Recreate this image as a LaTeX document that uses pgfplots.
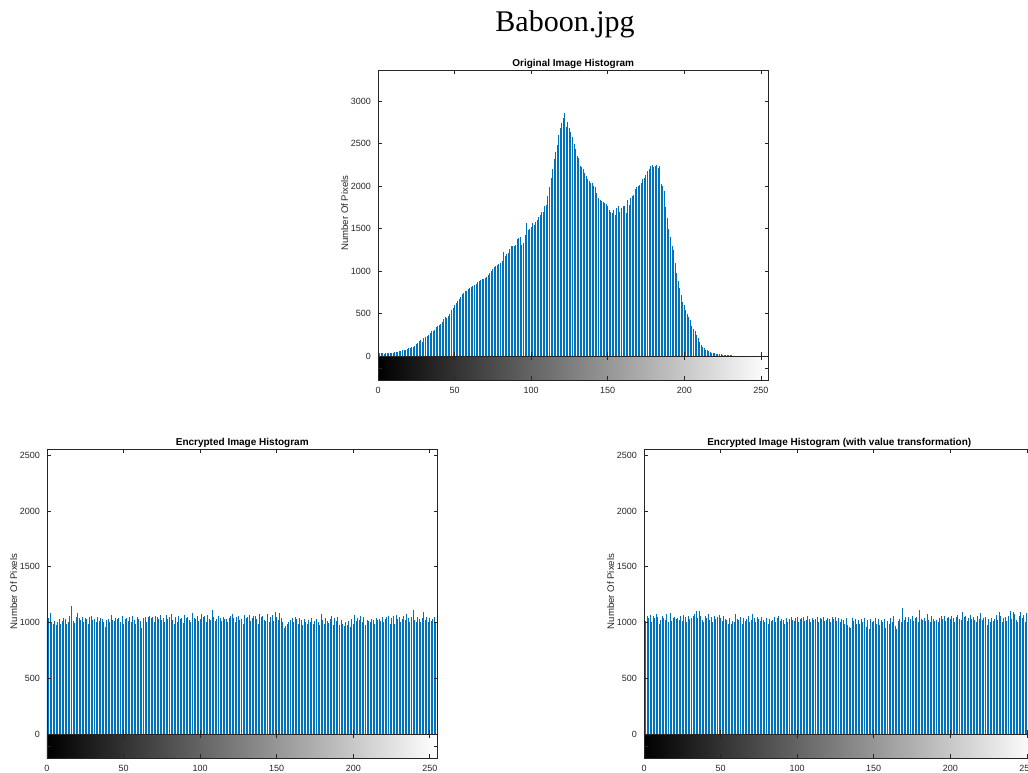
\documentclass[border=0pt]{standalone}
\usepackage{pgfplots}
\usepackage{pgfplotstable}
\pgfplotsset{compat=1.18}
\usepackage{fontspec}
\setmainfont{Liberation Sans}
\newfontfamily\timesfont{Liberation Serif}
\definecolor{mblue}{RGB}{0,114,189}
\definecolor{axgray}{RGB}{38,38,38}

% bin counts, bins 0..255
\pgfplotstableread[row sep=\\]{n\\
35\\38\\30\\32\\28\\35\\30\\33\\36\\34\\
40\\45\\42\\50\\55\\60\\65\\75\\70\\85\\
95\\100\\110\\105\\120\\140\\150\\175\\190\\170\\
210\\220\\240\\250\\270\\290\\300\\310\\340\\350\\
360\\380\\400\\440\\460\\450\\470\\500\\540\\560\\
600\\620\\650\\670\\700\\730\\740\\770\\760\\790\\
800\\810\\820\\830\\850\\870\\880\\900\\910\\905\\
920\\930\\950\\980\\1000\\1020\\1050\\1060\\1070\\1080\\
1090\\1120\\1220\\1180\\1200\\1210\\1260\\1290\\1300\\1300\\
1310\\1380\\1390\\1400\\1310\\1330\\1420\\1560\\1480\\1500\\
1520\\1570\\1540\\1580\\1600\\1640\\1660\\1690\\1700\\1760\\
1780\\1880\\1990\\2100\\2200\\2320\\2400\\2480\\2600\\2680\\
2740\\2800\\2860\\2700\\2750\\2680\\2640\\2580\\2500\\2440\\
2350\\2330\\2240\\2220\\2200\\2150\\2120\\2080\\2060\\2040\\
2030\\2000\\1990\\1920\\1860\\1840\\1820\\1810\\1800\\1790\\
1760\\1720\\1700\\1680\\1720\\1660\\1740\\1760\\1700\\1740\\
1760\\1770\\1680\\1830\\1780\\1860\\1880\\1900\\1960\\1990\\
2000\\2010\\2030\\2080\\2100\\2130\\2180\\2200\\2230\\2250\\
2220\\2240\\2250\\2210\\2240\\2020\\2000\\1940\\1750\\1620\\
1500\\1400\\1300\\1250\\1100\\980\\880\\800\\720\\640\\
600\\540\\500\\460\\420\\350\\320\\290\\250\\210\\
170\\135\\110\\90\\75\\68\\58\\48\\40\\34\\
30\\26\\22\\20\\18\\16\\14\\12\\10\\9\\
8\\6\\5\\4\\3\\3\\2\\2\\1\\1\\
1\\1\\0\\0\\0\\0\\0\\0\\0\\0\\0\\0\\0\\0\\0\\0\\
}\orig

\pgfplotstableread[row sep=\\]{n\\
1020\\1040\\1085\\1000\\990\\1010\\975\\1000\\1030\\990\\
1010\\1040\\1030\\985\\1005\\1060\\1150\\1010\\995\\1050\\
1085\\1040\\1020\\1050\\1000\\1040\\1030\\985\\1050\\1060\\
1020\\1035\\1000\\1045\\1010\\1040\\1030\\1000\\960\\1020\\
1035\\1000\\1065\\1020\\1010\\1040\\1030\\1040\\1000\\1060\\
990\\1030\\1040\\1015\\1045\\1000\\1060\\1020\\985\\1045\\
1030\\1010\\950\\1040\\1050\\1000\\1045\\1055\\1040\\1050\\
1000\\1060\\1050\\1035\\1065\\1020\\1040\\1000\\1070\\1030\\
1045\\1075\\1020\\990\\1050\\1000\\1060\\1030\\1040\\995\\
1070\\1040\\1050\\1020\\1000\\1085\\1040\\1030\\1060\\1010\\
1035\\1080\\1045\\1060\\1000\\1070\\1030\\1020\\1110\\1045\\
1010\\1030\\1060\\1040\\1010\\1050\\1030\\1035\\1005\\1040\\
1060\\1075\\1040\\1000\\1045\\1060\\1020\\1035\\990\\1070\\
1040\\1050\\1070\\1010\\1040\\1055\\1060\\1035\\990\\1075\\
1045\\1060\\1020\\1010\\1080\\1000\\1045\\1070\\1010\\1090\\
1050\\1020\\1085\\1040\\1000\\950\\970\\985\\1000\\1020\\
1040\\1000\\1045\\1030\\990\\1040\\1020\\975\\1030\\1000\\
985\\1020\\1000\\1040\\990\\1010\\1035\\1000\\980\\1080\\
1020\\990\\1040\\1010\\995\\1030\\1060\\975\\1040\\1010\\
1050\\980\\1020\\990\\970\\1000\\980\\1010\\960\\1030\\
990\\1065\\1010\\1040\\1020\\1060\\1000\\1050\\980\\1020\\
1010\\1000\\1030\\1020\\990\\1040\\1020\\1030\\1010\\1050\\
1000\\1030\\1045\\1060\\985\\1040\\1055\\990\\1070\\1030\\
1045\\1000\\1030\\1060\\1020\\1075\\1040\\1000\\1050\\1110\\
1020\\1000\\1045\\1030\\1005\\1040\\1090\\1020\\1050\\1000\\
1040\\1010\\1030\\1050\\1000\\1060\\
}\encA

\pgfplotstableread[row sep=\\]{n\\
1050\\1010\\1060\\1040\\1070\\1000\\1055\\1040\\1080\\1050\\
990\\1020\\1060\\1040\\1020\\1080\\1000\\1085\\1010\\1040\\
1050\\1030\\1040\\1020\\1060\\1010\\1070\\1050\\1000\\1060\\
1035\\1040\\1060\\1080\\1100\\1040\\1105\\1060\\1020\\1000\\
1055\\1040\\1080\\1020\\1050\\1000\\1060\\1030\\1045\\1070\\
1040\\1010\\1060\\1030\\1020\\990\\1040\\985\\1010\\1000\\
1075\\1030\\1020\\1050\\990\\1040\\1010\\1030\\1060\\1000\\
1020\\1075\\1040\\1000\\1045\\1030\\1010\\1050\\1020\\1000\\
1040\\990\\1030\\1010\\1020\\1045\\1000\\1040\\1060\\1010\\
1030\\1020\\990\\1040\\1000\\1030\\1050\\1020\\1010\\1040\\
1050\\1000\\1030\\1040\\1045\\1010\\1020\\1060\\1030\\1000\\
1040\\1020\\1030\\1050\\1000\\1040\\1030\\1045\\1010\\1020\\
1040\\1030\\1000\\1050\\1030\\1045\\1010\\1040\\1000\\1030\\
1020\\990\\1040\\980\\960\\950\\1040\\1010\\1030\\985\\
1020\\990\\1035\\1000\\1040\\960\\1020\\940\\1030\\1000\\
1010\\1040\\990\\1030\\980\\1020\\1005\\1030\\950\\1010\\
990\\1040\\1000\\1060\\970\\940\\1010\\1030\\1000\\1130\\
1020\\1045\\1000\\1050\\1030\\1060\\1010\\1040\\1050\\1000\\
1110\\1030\\1020\\1040\\1010\\1080\\1020\\1000\\1060\\1035\\
1010\\1020\\1000\\1040\\1060\\1030\\1055\\1015\\1040\\1050\\
1030\\1060\\1040\\1005\\1045\\1070\\1030\\1020\\1090\\1050\\
1060\\1010\\1040\\1065\\1030\\1050\\1020\\1000\\1060\\1030\\
1085\\1020\\1040\\1050\\980\\1030\\1000\\1040\\1010\\1030\\
1070\\1020\\1090\\1060\\1000\\1040\\1045\\1010\\1060\\1100\\
1030\\1090\\1080\\1020\\1000\\1060\\1095\\1040\\1070\\1000\\
1085\\1060\\1040\\1080\\1000\\1050\\
}\encB

\pgfplotsset{
  mat/.style={
    scale only axis, width=195.25pt, xmin=0, xmax=255,
    tick align=inside, tick pos=both,
    major tick length=2pt,
    axis line style={draw=axgray, line width=0.4pt},
    tick style={draw=axgray, line width=0.35pt},
    ticklabel style={font=\fontsize{4.5}{5}\selectfont, text=axgray},
    /pgf/number format/assume math mode=true,
    /pgf/number format/1000 sep={},
    xtick={0,50,...,250},
  },
  hist/.style={
    mat, ymin=0, xticklabels={}, axis on top,
    ylabel={Number Of Pixels},
    ylabel style={font=\fontsize{4.8}{5.5}\selectfont, text=axgray, yshift=-5.5pt},
    title style={font=\bfseries\fontsize{5}{6}\selectfont, at={(0.5,1)}, anchor=south, yshift=-6.8pt, inner sep=1.5pt},
  },
  cbar/.style={
    mat, height=12pt, ymin=0, ymax=1, ytick={0.5}, yticklabels={}, axis on top,
    xticklabel style={yshift=-0.3pt},
  },
  stems/.style={ycomb, draw=mblue, line width=0.5pt, mark=none},
}

\begin{document}
\begin{tikzpicture}
\useasboundingbox (0,0) rectangle (514pt,386pt);
\node[font=\timesfont\fontsize{15}{18}\selectfont, anchor=base] at (282.5pt,370pt) {Baboon.jpg};

% original image
\begin{axis}[hist, at={(189pt,208pt)}, anchor=south west, height=143pt,
  ymax=3365, ytick={0,500,...,3000}, title={Original Image Histogram}]
\addplot[stems] table[x expr=\coordindex, y=n] {\orig};
\end{axis}
\begin{axis}[cbar, at={(189pt,196pt)}, anchor=south west]
\fill[left color=black, right color=white] (axis cs:0,0) rectangle (axis cs:255,1);
\end{axis}

% encrypted
\begin{axis}[hist, at={(23.5pt,19pt)}, anchor=south west, height=142.5pt,
  ymax=2555, ytick={0,500,...,2500}, title={Encrypted Image Histogram}]
\addplot[stems] table[x expr=\coordindex, y=n] {\encA};
\end{axis}
\begin{axis}[cbar, at={(23.5pt,7pt)}, anchor=south west]
\fill[left color=black, right color=white] (axis cs:0,0) rectangle (axis cs:255,1);
\end{axis}

% encrypted with value transformation
\begin{axis}[hist, at={(322pt,19pt)}, anchor=south west, height=142.5pt,
  ymax=2555, ytick={0,500,...,2500}, title={Encrypted Image Histogram (with value transformation)}]
\addplot[stems] table[x expr=\coordindex, y=n] {\encB};
\end{axis}
\begin{axis}[cbar, at={(322pt,7pt)}, anchor=south west]
\fill[left color=black, right color=white] (axis cs:0,0) rectangle (axis cs:255,1);
\end{axis}
\end{tikzpicture}
\end{document}
